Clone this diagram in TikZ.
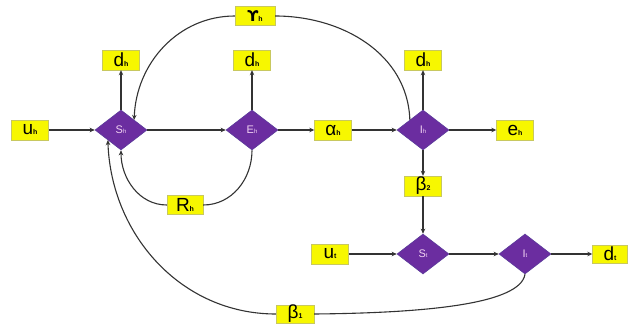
\documentclass[tikz,border=0pt]{standalone}
\usepackage{fontspec}
\setmainfont{Liberation Sans}
\newfontfamily\symfont{DejaVu Sans}
\usetikzlibrary{shapes.geometric,arrows.meta}
\definecolor{boxyellow}{HTML}{F7F700}
\definecolor{boxedge}{HTML}{C8C860}
\definecolor{diafill}{HTML}{6B2DA0}
\definecolor{diaedge}{HTML}{5A3A9A}
\definecolor{dialab}{HTML}{F2D2F2}
\definecolor{linegray}{HTML}{333333}
\newcommand\lab[2]{{\fontsize{19}{19}\selectfont #1\bfseries\fontsize{7}{7}\selectfont #2}}
\newcommand\dlab[2]{{\fontsize{11}{11}\selectfont #1\fontsize{6}{6}\selectfont #2}}
\begin{document}
\begin{tikzpicture}[x=1pt,y=1pt,
  box/.style={draw=boxedge, line width=0.4pt, fill=boxyellow, minimum width=37pt, minimum height=20pt, inner sep=0pt},
  dia/.style={diamond, draw=diaedge, line width=0.6pt, fill=diafill, minimum width=52pt, minimum height=40pt, inner sep=0pt, text=dialab},
  conn/.style={draw=linegray, line width=1.1pt},
  arr/.style={conn, -{Stealth[length=5pt,width=4.5pt]}}]
\useasboundingbox[fill=white] (0,0) rectangle (635,-326);
% decision nodes
\node[dia] (Sh) at (121,-130) {\dlab{S}{h}};
\node[dia] (Eh) at (252,-130) {\dlab{E}{h}};
\node[dia] (Ih) at (423,-130) {\dlab{I}{h}};
\node[dia] (St) at (423,-254) {\dlab{S}{t}};
\node[dia] (It) at (525,-254) {\dlab{I}{t}};
% boxes
\node[box] (uh) at (30,-130) {\lab{u}{h}};
\node[box] (dh1) at (121,-60) {\lab{d}{h}};
\node[box] (dh2) at (252,-60) {\lab{d}{h}};
\node[box] (dh3) at (423,-60) {\lab{d}{h}};
\node[box, minimum width=40pt, minimum height=19pt] (Yh) at (255,-16) {{\symfont\bfseries\fontsize{15}{15}\selectfont ϒ}{\bfseries\fontsize{7}{7}\selectfont h}};
\node[box] (ah) at (333,-130) {\lab{α}{h}};
\node[box] (eh) at (515,-130) {\lab{e}{h}};
\node[box] (b2) at (423,-186) {\lab{β}{2}};
\node[box] (ut) at (330,-254) {\lab{u}{t}};
\node[box, minimum width=35pt, minimum height=18pt] (dt) at (610,-254) {\lab{d}{t}};
\node[box, minimum width=36pt, minimum height=19pt] (Rh) at (185,-205) {\lab{R}{h}};
\node[box, minimum width=38pt, minimum height=18pt] (b1) at (295,-314) {\lab{β}{1}};
% straight connectors
\draw[arr] (uh.east) -- (Sh.west);
\draw[arr] (Sh.north) -- (dh1.south);
\draw[arr] (Sh.east) -- (Eh.west);
\draw[arr] (Eh.north) -- (dh2.south);
\draw[arr] (Eh.east) -- (ah.west);
\draw[arr] (ah.east) -- (Ih.west);
\draw[arr] (Ih.north) -- (dh3.south);
\draw[arr] (Ih.east) -- (eh.west);
\draw[arr] (Ih.south) -- (b2.north);
\draw[arr] (b2.south) -- (St.north);
\draw[arr] (ut.east) -- (St.west);
\draw[arr] (St.east) -- (It.west);
\draw[arr] (It.east) -- (dt.west);
% curved connectors
\draw[conn] (Ih.north west) to[out=92,in=0] (Yh.east);
\draw[arr] (Yh.west) to[out=180,in=88] (Sh.north east);
\draw[conn] (Eh.south) to[out=-90,in=0] (Rh.east);
\draw[arr] (Rh.west) to[out=180,in=-90] (Sh.south);
\draw[conn] (It.south) .. controls (520,-305) and (420,-313) .. (b1.east);
\draw[arr] (b1.west) to[out=180,in=-88] (Sh.south west);
\end{tikzpicture}
\end{document}
